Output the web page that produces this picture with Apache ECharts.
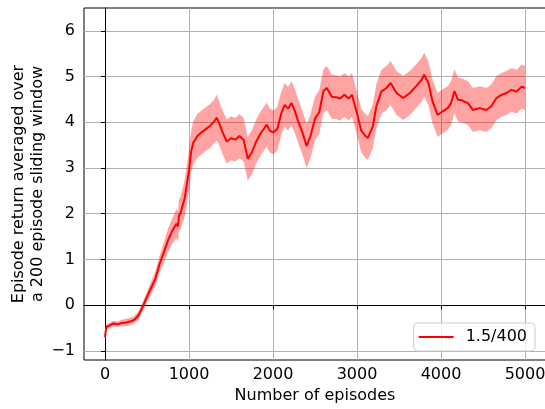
<!DOCTYPE html>
<html>
<head>
<meta charset="utf-8">
<script src="https://cdn.jsdelivr.net/npm/echarts@6/dist/echarts.min.js"></script>
<style>
  html, body { margin: 0; padding: 0; background: #fff; }
  #chart { width: 545px; height: 409px; }
</style>
</head>
<body>
<div id="chart"></div>
<script>
const episodes = [
  0, 15, 50, 100, 150, 200, 250, 300, 350, 400, 450, 500, 550, 600, 650, 700, 750, 800, 850, 870, 880,
  900, 950, 1000, 1025, 1050, 1100, 1150, 1200, 1250, 1300, 1330, 1360, 1400, 1450, 1500, 1550, 1600, 1650, 1700, 1750,
  1800, 1850, 1900, 1925, 1960, 2000, 2050, 2100, 2140, 2180, 2220, 2260, 2300, 2350, 2400, 2450, 2500, 2550, 2600, 2640,
  2700, 2750, 2800, 2850, 2900, 2940, 3000, 3050, 3100, 3130, 3190, 3230, 3290, 3350, 3400, 3470, 3550, 3630, 3700, 3770,
  3800, 3850, 3900, 3960, 4020, 4080, 4120, 4160, 4200, 4260, 4320, 4380, 4460, 4540, 4600, 4660, 4720, 4780, 4840, 4900,
  4960, 5000
]
// mean return (200 episode window)
const meanReturn = [
  -0.70, -0.48, -0.45, -0.40, -0.42, -0.39, -0.38, -0.36, -0.32, -0.22, -0.03, 0.18, 0.38, 0.58, 0.90, 1.15, 1.42, 1.62, 1.78, 1.72, 1.95,
  2.02, 2.35, 2.95, 3.35, 3.55, 3.70, 3.78, 3.85, 3.92, 4.02, 4.10, 3.98, 3.78, 3.58, 3.65, 3.62, 3.70, 3.62, 3.20, 3.35,
  3.58, 3.75, 3.88, 3.95, 3.82, 3.78, 3.85, 4.20, 4.38, 4.30, 4.42, 4.25, 4.02, 3.78, 3.48, 3.72, 4.08, 4.22, 4.68, 4.75,
  4.56, 4.55, 4.52, 4.60, 4.52, 4.60, 4.20, 3.82, 3.70, 3.66, 3.92, 4.35, 4.67, 4.75, 4.86, 4.64, 4.53, 4.64, 4.78, 4.93,
  5.04, 4.86, 4.45, 4.16, 4.24, 4.31, 4.42, 4.68, 4.50, 4.47, 4.42, 4.27, 4.31, 4.27, 4.35, 4.53, 4.60, 4.64, 4.71, 4.67,
  4.78, 4.75
]
// half width of the shaded band
const spread = [
  0.05, 0.05, 0.06, 0.06, 0.06, 0.07, 0.08, 0.08, 0.08, 0.09, 0.10, 0.12, 0.14, 0.16, 0.18, 0.22, 0.25, 0.28, 0.32, 0.34, 0.35,
  0.36, 0.40, 0.45, 0.46, 0.47, 0.48, 0.48, 0.48, 0.48, 0.48, 0.50, 0.48, 0.48, 0.48, 0.48, 0.48, 0.48, 0.48, 0.48, 0.48,
  0.48, 0.48, 0.48, 0.48, 0.48, 0.48, 0.48, 0.48, 0.48, 0.48, 0.48, 0.48, 0.48, 0.48, 0.48, 0.48, 0.48, 0.48, 0.48, 0.48,
  0.48, 0.48, 0.48, 0.48, 0.48, 0.48, 0.48, 0.48, 0.48, 0.48, 0.48, 0.48, 0.48, 0.48, 0.48, 0.48, 0.48, 0.48, 0.48, 0.48,
  0.48, 0.48, 0.48, 0.48, 0.48, 0.48, 0.48, 0.48, 0.48, 0.48, 0.48, 0.48, 0.48, 0.48, 0.48, 0.48, 0.48, 0.48, 0.48, 0.48,
  0.48, 0.48
]
const xTicks = [0, 1000, 2000, 3000, 4000, 5000]
const yTicks = [-1, 0, 1, 2, 3, 4, 5, 6]
const seriesName = '1.5/400'

const font = 'DejaVu Sans'
const fontSize = 16

const chart = echarts.init(document.getElementById('chart'))

const bandData = episodes.map((ep, i) => [ep, meanReturn[i] - spread[i], meanReturn[i] + spread[i]])
const mean = episodes.map((ep, i) => [ep, meanReturn[i]])

const fmt = v => (v < 0 ? '\u2212' + Math.abs(v) : String(v))

// shaded band drawn once as one polygon: upper edge forward, lower edge back
const renderBand = (params, api) => {
  if (params.dataIndex !== 0) return
  const pts = []
  for (let i = 0; i < bandData.length; i++) pts.push(api.coord([bandData[i][0], bandData[i][2]]))
  for (let i = bandData.length - 1; i >= 0; i--) pts.push(api.coord([bandData[i][0], bandData[i][1]]))
  return {
    type: 'polygon',
    shape: { points: pts },
    style: { fill: 'rgba(255,0,0,0.36)' }
  }
}

chart.setOption({
  animation: false,
  grid: {
    left: 84, top: 8, right: -1, bottom: 49,
    containLabel: false, outerBoundsMode: 'none',
    show: true, borderColor: '#000', borderWidth: 1
  },
  xAxis: {
    type: 'value', min: -250, max: 5250, splitNumber: 5,
    name: 'Number of episodes', nameLocation: 'middle', nameGap: 28, nameMoveOverlap: false,
    nameTextStyle: { fontFamily: font, fontSize: fontSize, color: '#000' },
    axisLine: { show: true, lineStyle: { color: '#000' } },
    axisTick: { show: true, length: 4, customValues: xTicks, lineStyle: { color: '#000' } },
    axisLabel: { customValues: xTicks, margin: 7, fontFamily: font, fontSize: fontSize, color: '#000', formatter: fmt },
    splitLine: { show: true, lineStyle: { color: '#b0b0b0', width: 1 } }
  },
  yAxis: {
    type: 'value', min: -1.2, max: 6.5, splitNumber: 7,
    name: 'Episode return averaged over\na 200 episode sliding window',
    nameLocation: 'middle', nameGap: 37, nameMoveOverlap: false,
    nameTextStyle: { fontFamily: font, fontSize: fontSize, color: '#000', lineHeight: 19 },
    axisLine: { show: true, lineStyle: { color: '#000' } },
    axisTick: { show: true, length: 4, customValues: yTicks, lineStyle: { color: '#000' } },
    axisLabel: { customValues: yTicks, margin: 9, fontFamily: font, fontSize: fontSize, color: '#000', formatter: fmt },
    splitLine: { show: true, lineStyle: { color: '#b0b0b0', width: 1 } }
  },
  legend: {
    data: [seriesName],
    right: 10, bottom: 58,
    icon: 'rect', itemWidth: 35, itemHeight: 2,
    padding: [6, 8, 6, 5],
    borderColor: '#cccccc', borderWidth: 1, borderRadius: 4,
    backgroundColor: 'rgba(255,255,255,0.8)',
    textStyle: { fontFamily: font, fontSize: fontSize, color: '#000', padding: [0, 0, 0, 7] }
  },
  series: [
    {
      name: 'band', type: 'custom', data: bandData,
      encode: { x: 0, y: [1, 2] },
      renderItem: renderBand, silent: true, z: 1
    },
    {
      name: seriesName, type: 'line', data: mean,
      symbol: 'none', color: '#ff0000', z: 2,
      lineStyle: { color: '#ff0000', width: 2 }
    }
  ]
})
</script>
</body>
</html>
